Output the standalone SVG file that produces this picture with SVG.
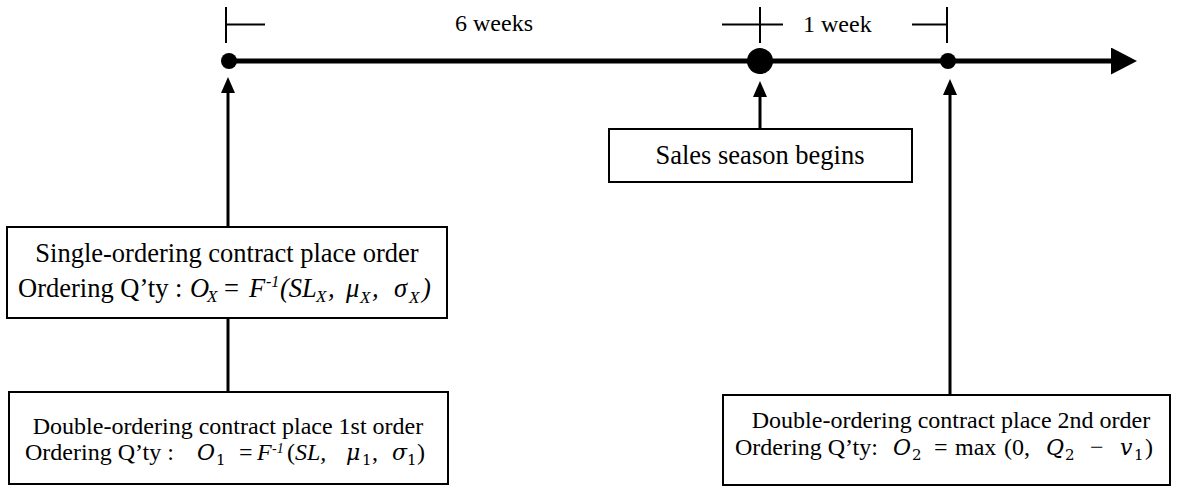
<svg xmlns="http://www.w3.org/2000/svg" width="1184" height="487" viewBox="0 0 1184 487">
<style>
text{font-family:'Liberation Serif','Times New Roman',serif;fill:#000;white-space:pre}
.t26{font-size:26.5px}
.t24{font-size:24px}
.i{font-style:italic}
.sub{font-size:17px;font-style:italic}
.sup{font-size:16px;font-style:italic}
.sup2{font-size:14px;font-style:italic}
.m{font-family:'DejaVu Serif',serif;font-style:italic;font-size:22px}
.md{font-family:'DejaVu Serif',serif;font-size:15px}
.box{fill:#fff;stroke:#000;stroke-width:2}
.conn{stroke:#000;stroke-width:3;fill:none}
.tick{stroke:#000;stroke-width:2;fill:none}
.time{stroke:#000;stroke-width:5;fill:none}
</style>
<defs>
<marker id="arr" markerUnits="userSpaceOnUse" markerWidth="16" markerHeight="16" viewBox="0 0 16 14" refX="0" refY="7" orient="auto">
<path d="M0,0 L16,7 L0,14 Z" fill="#000"/>
</marker>
<marker id="arrBig" markerUnits="userSpaceOnUse" markerWidth="26" markerHeight="27" viewBox="0 0 26 27" refX="0" refY="13.5" orient="auto">
<path d="M0,0 L26,13.5 L0,27 Z" fill="#000"/>
</marker>
</defs>
<rect width="1184" height="487" fill="#fff"/>

<g id="timeline">
<line class="time" x1="229" y1="61" x2="1111" y2="61" marker-end="url(#arrBig)"/>
<circle cx="229" cy="61" r="8"/>
<circle cx="760" cy="61" r="13"/>
<circle cx="948" cy="61" r="8"/>
</g>

<g id="ticks">
<line class="tick" x1="226" y1="7" x2="226" y2="43"/>
<line class="tick" x1="226" y1="24.5" x2="265" y2="24.5"/>
<line class="tick" x1="760" y1="7" x2="760" y2="43"/>
<line class="tick" x1="722" y1="24.5" x2="783" y2="24.5"/>
<line class="tick" x1="947" y1="7" x2="947" y2="43"/>
<line class="tick" x1="912" y1="24.5" x2="947" y2="24.5"/>
<text class="t24" x="455" y="31">6 weeks</text>
<text class="t24" x="803" y="32">1 week</text>
</g>

<g id="connectors">
<line class="conn" x1="228" y1="227" x2="228" y2="93" marker-end="url(#arr)"/>
<line class="conn" x1="228" y1="318" x2="228" y2="392"/>
<line class="conn" x1="760" y1="129" x2="760" y2="97" marker-end="url(#arr)"/>
<line class="conn" x1="950" y1="395" x2="950" y2="95" marker-end="url(#arr)"/>
</g>

<g id="sales">
<rect class="box" x="609" y="129" width="303" height="53"/>
<text class="t26" x="760" y="164" text-anchor="middle">Sales season begins</text>
</g>

<g id="single">
<rect class="box" x="7" y="227" width="440" height="91"/>
<text class="t26" x="227" y="262" text-anchor="middle">Single-ordering contract place order</text>
<text class="t26" y="297"><tspan x="18">Ordering Q’ty :</tspan><tspan x="190" class="i">O</tspan><tspan x="207" y="302" class="sub">X</tspan><tspan x="224" y="297">=</tspan><tspan x="249" class="i">F</tspan><tspan x="266" y="287" class="sup">-1</tspan><tspan x="280" y="297" class="i">(SL</tspan><tspan x="316" y="302" class="sub">X</tspan><tspan x="328" y="297" class="i">,</tspan><tspan x="346" class="i">μ</tspan><tspan x="360" y="303" class="sub">X</tspan><tspan x="372" y="297" class="i">,</tspan><tspan x="394" class="i">σ</tspan><tspan x="409" y="303" class="sub">X</tspan><tspan x="422" y="297" class="i">)</tspan></text>
</g>

<g id="double1">
<rect class="box" x="9" y="392" width="439" height="92"/>
<text class="t24" x="228" y="434" text-anchor="middle">Double-ordering contract place 1st order</text>
<text class="t24" y="460"><tspan x="25">Ordering Q’ty :</tspan><tspan x="197" class="m">O</tspan><tspan x="216" y="465" class="md">1</tspan><tspan x="239" y="460">=</tspan><tspan x="257" class="i">F</tspan><tspan x="272" y="453" class="sup2">-1</tspan><tspan x="287" y="460">(</tspan><tspan x="295" class="i">SL,</tspan><tspan x="346" class="m">μ</tspan><tspan x="362" y="465" class="md">1</tspan><tspan x="372" y="460">,</tspan><tspan x="392" class="m">σ</tspan><tspan x="407" y="465" class="md">1</tspan><tspan x="417" y="460">)</tspan></text>
</g>

<g id="double2">
<rect class="box" x="723" y="395" width="447" height="90"/>
<text class="t24" x="951" y="428" text-anchor="middle">Double-ordering contract place 2nd order</text>
<text class="t24" y="455"><tspan x="735">Ordering Q’ty:</tspan><tspan x="893" class="m">O</tspan><tspan x="912" y="460" class="md">2</tspan><tspan x="934" y="455">=</tspan><tspan x="955">max</tspan><tspan x="1004">(0,</tspan><tspan x="1046" class="m">Q</tspan><tspan x="1065" y="460" class="md">2</tspan><tspan x="1090" y="455">−</tspan><tspan x="1120" class="m">v</tspan><tspan x="1134" y="460" class="md">1</tspan><tspan x="1145" y="455">)</tspan></text>
</g>
</svg>
